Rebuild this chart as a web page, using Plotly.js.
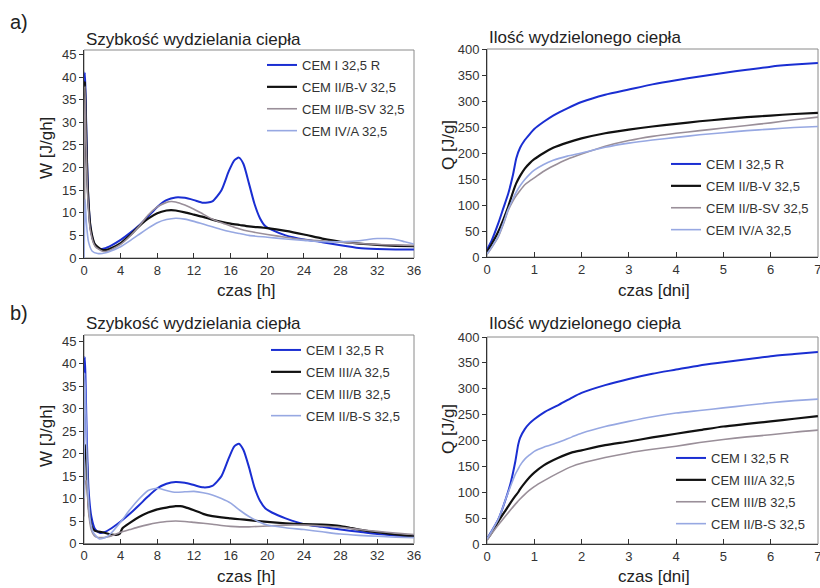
<!DOCTYPE html>
<html>
<head>
<meta charset="utf-8">
<script src="https://cdn.plot.ly/plotly-3.0.1.min.js"></script>
<style>html,body{margin:0;padding:0;background:#fff;}#chart{width:820px;height:588px;}</style>
</head>
<body>
<div id="chart"></div>
<script>
// ---------- panel a) heat release rate W [J/gh] vs time [h] ----------
const aW_blue_x  = [0, 0.08, 0.15, 0.3, 0.5, 0.8, 1.2, 1.7, 2.2, 3, 4, 5, 6, 7, 8, 9, 10, 11, 12, 13, 14, 15, 15.8, 16.4, 16.9, 17.4, 18, 18.6, 19.2, 19.8, 20.5, 22, 24, 26, 28, 30, 32, 34, 36];
const aW_blue_y  = [17, 41, 38, 24, 12, 5.5, 2.9, 2.0, 2.1, 2.8, 4.0, 5.5, 7.2, 9.2, 11.3, 12.8, 13.4, 13.3, 12.8, 12.2, 12.5, 15.0, 19.2, 21.6, 22.2, 20.8, 16.5, 12.0, 8.8, 7.0, 6.2, 5.0, 4.1, 3.5, 2.8, 2.2, 2.0, 1.9, 1.9];
const aW_black_x = [0, 0.1, 0.2, 0.4, 0.7, 1.2, 2, 2.5, 3, 4, 5, 6, 7, 8, 9, 9.5, 10, 11, 12, 13, 14, 15, 16, 17, 18, 20, 22, 24, 26, 28, 30, 32, 34, 36];
const aW_black_y = [9, 39, 31, 16, 7, 3.0, 1.8, 1.8, 2.2, 3.3, 5.0, 7.0, 8.7, 9.9, 10.5, 10.6, 10.5, 10.1, 9.6, 9.1, 8.5, 8.0, 7.6, 7.3, 7.0, 6.6, 6.0, 5.2, 4.3, 3.6, 3.2, 2.9, 2.7, 2.6];
const aW_gray_x  = [0, 0.1, 0.2, 0.4, 0.7, 1.2, 2, 2.5, 3, 4, 5, 6, 7, 8, 9, 9.5, 10, 11, 12, 13, 14, 15, 16, 17, 18, 20, 22, 24, 26, 28, 30, 32, 34, 36];
const aW_gray_y  = [8, 38, 28, 14, 6, 2.6, 1.5, 1.5, 1.9, 3.0, 4.8, 7.0, 9.5, 11.3, 12.3, 12.5, 12.4, 11.7, 10.8, 9.7, 8.6, 7.8, 7.1, 6.4, 5.9, 5.2, 4.6, 4.1, 3.8, 3.5, 3.2, 3.0, 2.9, 2.8];
const aW_lblue_x = [0, 0.05, 0.12, 0.25, 0.5, 0.9, 1.5, 2, 2.5, 3, 4, 5, 6, 7, 8, 9, 10, 11, 12, 13, 14, 15, 16, 17, 18, 20, 22, 24, 26, 28, 30, 31, 32, 33, 34, 35, 36];
const aW_lblue_y = [0, 6, 13, 8, 3.5, 1.5, 1.0, 1.0, 1.2, 1.6, 2.5, 3.8, 5.2, 6.6, 7.8, 8.5, 8.8, 8.6, 8.1, 7.5, 6.9, 6.3, 5.8, 5.4, 5.0, 4.6, 4.2, 3.9, 3.6, 3.6, 3.8, 4.1, 4.3, 4.3, 4.1, 3.6, 3.1];

// ---------- panel a) heat released Q [J/g] vs time [days] ----------
const aQ_x       = [0, 0.1, 0.24, 0.35, 0.45, 0.55, 0.62, 0.7, 0.8, 0.9, 1, 1.2, 1.4, 1.7, 2, 2.5, 3, 3.5, 4, 4.5, 5, 5.5, 6, 6.5, 7];
const aQ_blue    = [14, 32, 65, 95, 122, 158, 190, 210, 225, 236, 246, 260, 272, 286, 298, 312, 322, 332, 340, 347, 354, 360, 366, 370, 373];
const aQ_black   = [10, 25, 49, 73, 97, 125, 142, 156, 170, 180, 188, 200, 210, 220, 228, 238, 245, 251, 256, 261, 265, 269, 272, 275, 277];
const aQ_gray    = [5, 18, 39, 64, 90, 108, 118, 128, 139, 146, 152, 165, 175, 188, 198, 213, 224, 232, 238, 243, 248, 253, 258, 264, 269];
const aQ_lblue   = [6, 19, 40, 66, 92, 112, 125, 137, 149, 159, 167, 178, 186, 194, 200, 211, 219, 225, 230, 235, 239, 243, 246, 249, 251];

// ---------- panel b) heat release rate ----------
const bW_blue_x  = [0, 0.08, 0.15, 0.3, 0.5, 0.8, 1.2, 1.7, 2.2, 3, 4, 5, 6, 7, 8, 9, 10, 11, 12, 13, 14, 15, 15.8, 16.4, 16.9, 17.4, 18, 18.6, 19.2, 19.8, 20.5, 22, 24, 26, 28, 30, 32, 34, 36];
const bW_blue_y  = [15, 41.5, 38, 24, 12, 6, 3.2, 2.4, 2.5, 3.4, 4.9, 6.6, 8.5, 10.5, 12.3, 13.3, 13.7, 13.5, 13.0, 12.5, 12.8, 15.0, 19.0, 21.6, 22.2, 20.8, 17.0, 12.5, 9.5, 7.8, 6.9, 5.6, 4.3, 3.7, 3.1, 2.6, 2.1, 1.8, 1.6];
const bW_black_x = [0, 0.1, 0.25, 0.4, 0.6, 0.9, 1.2, 2, 3, 3.5, 3.9, 4.2, 5, 6, 7, 8, 9, 10, 10.5, 11, 12, 13, 14, 15, 16, 17, 18, 20, 22, 24, 26, 27, 28, 29, 30, 32, 34, 36];
const bW_black_y = [12, 20, 22, 12, 6.5, 3.5, 2.8, 2.5, 2.0, 1.9, 2.2, 3.4, 4.6, 5.9, 6.9, 7.6, 8.0, 8.3, 8.3, 8.1, 7.4, 6.6, 6.1, 5.8, 5.6, 5.4, 5.2, 4.8, 4.5, 4.3, 4.2, 4.1, 3.9, 3.5, 3.1, 2.5, 2.0, 1.6];
const bW_gray_x  = [0, 0.1, 0.25, 0.5, 0.8, 1.2, 2, 3, 4, 5, 6, 7, 8, 9, 10, 11, 12, 13, 14, 15, 16, 17, 18, 20, 22, 24, 26, 28, 30, 32, 34, 36];
const bW_gray_y  = [6, 13, 14, 7, 3, 1.6, 1.3, 1.7, 2.5, 3.1, 3.7, 4.2, 4.6, 4.9, 5.0, 4.9, 4.7, 4.5, 4.3, 4.0, 3.8, 3.7, 3.7, 3.9, 4.1, 4.1, 3.9, 3.6, 3.1, 2.7, 2.3, 2.0];
const bW_lblue_x = [0, 0.08, 0.2, 0.4, 0.7, 1.0, 1.7, 2.5, 3, 4, 5, 6, 7, 8, 9, 10, 11, 12, 13, 14, 15, 16, 17, 18, 19, 20, 22, 24, 26, 28, 30, 32, 34, 36];
const bW_lblue_y = [10, 38, 30, 14, 5, 2.5, 1.0, 1.5, 2.4, 4.8, 7.5, 9.9, 11.8, 12.3, 11.8, 11.4, 11.5, 11.6, 11.3, 10.8, 10.0, 9.0, 7.4, 6.0, 4.9, 4.1, 3.5, 3.1, 2.6, 2.1, 1.8, 1.6, 1.4, 1.3];

// ---------- panel b) heat released ----------
const bQ_x       = [0, 0.1, 0.25, 0.4, 0.5, 0.6, 0.66, 0.7, 0.8, 0.9, 1, 1.2, 1.5, 1.8, 2, 2.5, 3, 3.5, 4, 4.5, 5, 5.5, 6, 6.5, 7];
const bQ_blue    = [10, 25, 50, 88, 118, 160, 192, 205, 222, 233, 241, 254, 268, 283, 292, 307, 319, 329, 337, 345, 351, 357, 363, 367, 371];
const bQ_lblue   = [10, 25, 50, 88, 112, 135, 145, 152, 164, 172, 179, 187, 196, 207, 214, 227, 237, 246, 253, 258, 263, 268, 273, 277, 280];
const bQ_black   = [9, 22, 45, 66, 80, 93, 100, 106, 118, 129, 138, 152, 166, 177, 181, 191, 198, 206, 213, 220, 227, 232, 237, 242, 247];
const bQ_gray    = [7, 20, 38, 55, 66, 77, 83, 87, 96, 104, 111, 122, 137, 150, 156, 167, 176, 183, 189, 196, 202, 207, 211, 216, 220];

const namesA = ['CEM I 32,5 R', 'CEM II/B-V 32,5', 'CEM II/B-SV 32,5', 'CEM IV/A 32,5'];
const namesB = ['CEM I 32,5 R', 'CEM III/A 32,5', 'CEM III/B 32,5', 'CEM II/B-S 32,5'];
const panelLabels = ['a)', 'b)'];
const titleW = 'Szybkość wydzielania ciepła';
const titleQ = 'Ilość wydzielonego ciepła';
const xTitleH = 'czas [h]';
const xTitleD = 'czas [dni]';
const yTitleW = 'W [J/gh]';
const yTitleQ = 'Q [J/g]';

// ---------- styles ----------
const FONT = 'Liberation Sans, Arial, Helvetica, sans-serif';
const sty = {
  blue:  {color: '#1a2ed2', width: 2},
  black: {color: '#111111', width: 2.2},
  gray:  {color: '#9a8f99', width: 1.6},
  lblue: {color: '#97a8e2', width: 1.6}
};
function tr(x, y, name, s, xa, ya, lg, grp) {
  return {x: x, y: y, name: name, type: 'scatter', mode: 'lines',
    line: {color: s.color, width: s.width, shape: 'spline', smoothing: 0.6},
    xaxis: xa, yaxis: ya, legend: lg, legendgroup: grp, showlegend: true};
}
const data = [
  tr(aW_blue_x, aW_blue_y, namesA[0], sty.blue, 'x', 'y', 'legend', 'a1'),
  tr(aW_black_x, aW_black_y, namesA[1], sty.black, 'x', 'y', 'legend', 'a2'),
  tr(aW_gray_x, aW_gray_y, namesA[2], sty.gray, 'x', 'y', 'legend', 'a3'),
  tr(aW_lblue_x, aW_lblue_y, namesA[3], sty.lblue, 'x', 'y', 'legend', 'a4'),
  tr(aQ_x, aQ_blue, namesA[0], sty.blue, 'x2', 'y2', 'legend2', 'b1'),
  tr(aQ_x, aQ_black, namesA[1], sty.black, 'x2', 'y2', 'legend2', 'b2'),
  tr(aQ_x, aQ_gray, namesA[2], sty.gray, 'x2', 'y2', 'legend2', 'b3'),
  tr(aQ_x, aQ_lblue, namesA[3], sty.lblue, 'x2', 'y2', 'legend2', 'b4'),
  tr(bW_blue_x, bW_blue_y, namesB[0], sty.blue, 'x3', 'y3', 'legend3', 'c1'),
  tr(bW_black_x, bW_black_y, namesB[1], sty.black, 'x3', 'y3', 'legend3', 'c2'),
  tr(bW_gray_x, bW_gray_y, namesB[2], sty.gray, 'x3', 'y3', 'legend3', 'c3'),
  tr(bW_lblue_x, bW_lblue_y, namesB[3], sty.lblue, 'x3', 'y3', 'legend3', 'c4'),
  tr(bQ_x, bQ_blue, namesB[0], sty.blue, 'x4', 'y4', 'legend4', 'd1'),
  tr(bQ_x, bQ_black, namesB[1], sty.black, 'x4', 'y4', 'legend4', 'd2'),
  tr(bQ_x, bQ_gray, namesB[2], sty.gray, 'x4', 'y4', 'legend4', 'd3'),
  tr(bQ_x, bQ_lblue, namesB[3], sty.lblue, 'x4', 'y4', 'legend4', 'd4')
];

const W = 820, H = 588;
const px = v => v / W;
const py = v => 1 - v / H;

function xax(dom, anchor, rng, dtick) {
  return {domain: dom, anchor: anchor, range: rng, dtick: dtick, tick0: 0,
    showgrid: false, zeroline: false, showline: true, linecolor: '#333', linewidth: 1,
    ticks: 'inside', ticklen: 5, tickcolor: '#333', tickwidth: 1, ticklabeloverflow: 'allow',
    tickfont: {family: FONT, size: 13, color: '#333'}, fixedrange: true};
}
function yax(dom, anchor, rng, dtick) {
  return {domain: dom, anchor: anchor, range: rng, dtick: dtick, tick0: 0,
    showgrid: false, zeroline: false, showline: true, linecolor: '#333', linewidth: 1,
    ticks: 'outside', ticklen: 4, tickcolor: '#333', tickwidth: 1,
    tickfont: {family: FONT, size: 13, color: '#333'}, fixedrange: true};
}
function leg(x, y) {
  return {x: px(x), y: py(y), xanchor: 'left', yanchor: 'top', bgcolor: 'rgba(0,0,0,0)',
    borderwidth: 0, font: {family: FONT, size: 13, color: '#333'}, tracegroupgap: 2,
    itemwidth: 30};
}
function frame(xr, yr) {
  return {type: 'rect', xref: xr + ' domain', yref: yr + ' domain', x0: 0, x1: 1, y0: 0, y1: 1,
    line: {color: '#8a8a8a', width: 1}, fillcolor: 'rgba(0,0,0,0)', layer: 'below'};
}
function ann(text, x, y, size, xanchor, angle) {
  return {text: text, xref: 'paper', yref: 'paper', x: px(x), y: py(y), xanchor: xanchor || 'left',
    yanchor: 'middle', showarrow: false, textangle: angle || 0,
    font: {family: FONT, size: size, color: '#222'}};
}

const layout = {
  width: W, height: H, margin: {l: 0, r: 0, t: 0, b: 0},
  paper_bgcolor: '#fff', plot_bgcolor: '#fff', showlegend: true,
  xaxis:  xax([px(84), px(414)], 'y', [0, 36.01], 4),
  yaxis:  yax([py(258), py(50)], 'x', [0, 46], 5),
  xaxis2: xax([px(487), px(818)], 'y2', [0, 7.003], 1),
  yaxis2: yax([py(257), py(49)], 'x2', [0, 400], 50),
  xaxis3: xax([px(84), px(414)], 'y3', [0, 36.01], 4),
  yaxis3: yax([py(543.5), py(335)], 'x3', [0, 46.4], 5),
  xaxis4: xax([px(487), px(818)], 'y4', [0, 7.003], 1),
  yaxis4: yax([py(544), py(337)], 'x4', [0, 400], 50),
  legend:  leg(262, 50),
  legend2: leg(666, 149),
  legend3: leg(266, 335),
  legend4: leg(671, 443),
  shapes: [frame('x', 'y'), frame('x2', 'y2'), frame('x3', 'y3'), frame('x4', 'y4')],
  annotations: [
    ann(panelLabels[0], 8, 22, 20), ann(panelLabels[1], 8, 313, 20),
    ann(titleW, 84, 39, 17), ann(titleQ, 487, 38, 17),
    ann(titleW, 84, 324, 17), ann(titleQ, 487, 324, 17),
    ann(xTitleH, 246, 290, 17, 'center'), ann(xTitleD, 654, 290, 17, 'center'),
    ann(xTitleH, 246, 576, 17, 'center'), ann(xTitleD, 654, 576, 17, 'center'),
    ann(yTitleW, 46, 148, 17, 'center', -90), ann(yTitleQ, 448, 145, 17, 'center', -90),
    ann(yTitleW, 46, 436, 17, 'center', -90), ann(yTitleQ, 448, 429, 17, 'center', -90)
  ]
};

Plotly.newPlot('chart', data, layout, {displayModeBar: false, staticPlot: true});
</script>
</body>
</html>
